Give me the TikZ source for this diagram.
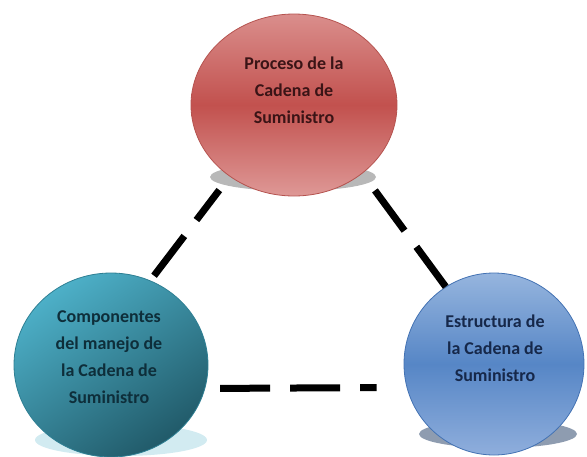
\documentclass[tikz,border=0pt]{standalone}
\usepackage{fontspec}
\setmainfont{Carlito}
\usepackage{xcolor}
\usetikzlibrary{shapes,calc,positioning}

\definecolor{redtop}{HTML}{DA8E8C}
\definecolor{redmid}{HTML}{C2514E}
\definecolor{redbot}{HTML}{DE9896}
\definecolor{redline}{HTML}{B5534F}
\definecolor{redtxt}{HTML}{3A1416}
\definecolor{tealtop}{HTML}{4DB0C8}
\definecolor{tealbot}{HTML}{215A69}
\definecolor{tealline}{HTML}{2E7F93}
\definecolor{tealtxt}{HTML}{0E2E3A}
\definecolor{bluetop}{HTML}{96B5DE}
\definecolor{bluemid}{HTML}{5686C6}
\definecolor{bluebot}{HTML}{8FAEDC}
\definecolor{blueline}{HTML}{4372B3}
\definecolor{bluetxt}{HTML}{16284A}
\definecolor{blueshadow}{HTML}{8E9CB0}

\begin{document}
\begin{tikzpicture}[x=1pt,y=-1pt]
\tikzstyle{circ}=[ellipse,draw,line width=0.8pt,inner sep=0pt]
\tikzstyle{txt}=[align=center,inner sep=0pt,font=\fontsize{18}{27}\selectfont\bfseries]
\tikzstyle{link}=[line width=7pt,dash pattern=on 50pt off 20pt]

\useasboundingbox (0,0) rectangle (587,456);

% shadows under the circles
\fill[gray!70,opacity=.8] (293,177) ellipse [x radius=83, y radius=14];
\fill[tealtop!25] (121,440) ellipse [x radius=86, y radius=16];
\fill[blueshadow] (498,434) ellipse [x radius=79, y radius=14];

\draw node[circ,draw=redline,top color=redtop,bottom color=redbot,middle color=redmid,
           minimum width=206pt,minimum height=182pt] (proc) at (294,105) {}
      node[circ,draw=tealline,top color=tealtop,bottom color=tealbot,shading angle=35,
           minimum width=194pt,minimum height=184pt] (comp) at (111,365) {}
      node[circ,draw=blueline,top color=bluetop,bottom color=bluebot,middle color=bluemid,
           minimum width=180pt,minimum height=182pt] (estr) at (494,364) {};

\draw node[txt,text=redtxt] (proctxt) at ($(proc)+(0,-15)$) {Proceso de la\\Cadena de\\Suministro}
      node[txt,text=tealtxt] (comptxt) at ($(comp)+(-2,-8)$) {Componentes\\del manejo de\\la Cadena de\\Suministro}
      node[txt,text=bluetxt] (estrtxt) at ($(estr)+(1,-16)$) {Estructura de\\la Cadena de\\Suministro};

% dashed links
\draw[link,shorten <=6pt,shorten >=17pt] (comp.65) -- (proc.228);
\draw[link,shorten <=21pt] (proc.315) -- (estr.122);
\draw[link,shorten <=15pt,shorten >=30pt] (comp.-14) -- (estr.195);
\end{tikzpicture}
\end{document}
